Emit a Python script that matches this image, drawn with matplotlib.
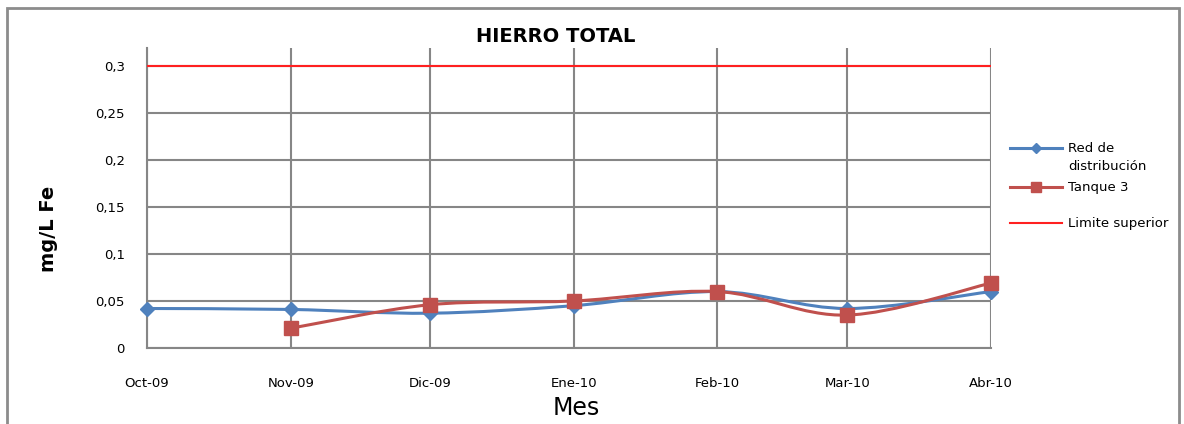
import matplotlib
matplotlib.use("Agg")
import matplotlib.pyplot as plt
import matplotlib.dates as mdates
from matplotlib.path import Path
from matplotlib.patches import PathPatch, Rectangle
from matplotlib.lines import Line2D
import numpy as np

# datos
meses = ["Oct-09", "Nov-09", "Dic-09", "Ene-10", "Feb-10", "Mar-10", "Abr-10"]
fechas = ["2009-10-01", "2009-11-01", "2009-12-01", "2010-01-01",
          "2010-02-01", "2010-03-01", "2010-04-01"]
red_distribucion = [0.042, 0.041, 0.037, 0.045, 0.060, 0.042, 0.060]
tanque3 = [None, 0.021, 0.046, 0.050, 0.060, 0.035, 0.069]
limite = [0.3, 0.3, 0.3, 0.3, 0.3, 0.3, 0.3]
yticks = [0, 0.05, 0.1, 0.15, 0.2, 0.25, 0.3]
ylabels = ["0", "0,05", "0,1", "0,15", "0,2", "0,25", "0,3"]

azul = "#4F81BD"
rojo = "#C0504D"
rojo_lim = "#FF2020"
gris = "#868686"
fs = 9.5

x_all = mdates.datestr2num(fechas)


def curva_suave(xs, ys):
    # bezier tipo excel (catmull-rom) entre los puntos
    p = np.column_stack([xs, ys])
    n = len(p)
    verts = [p[0]]
    codes = [Path.MOVETO]
    for i in range(n - 1):
        p0 = p[i - 1] if i > 0 else p[i]
        p3 = p[i + 2] if i + 2 < n else p[i + 1]
        c1 = p[i] + (p[i + 1] - p0) / 6
        c2 = p[i + 1] - (p3 - p[i]) / 6
        verts += [c1, c2, p[i + 1]]
        codes += [Path.CURVE4] * 3
    return Path(verts, codes)


fig = plt.figure(figsize=(11.84, 4.24), dpi=100)
fig.patches.append(Rectangle((7 / 1184, -0.1), 1172 / 1184, 1.1 - 8 / 424,
                             transform=fig.transFigure, fill=False,
                             edgecolor="#8C8C8C", linewidth=2))
ax = fig.add_axes([147 / 1184, 1 - 348 / 424, 844 / 1184, 300 / 424])

ax.set_xlim(x_all[0], x_all[-1])
ax.set_ylim(0, 0.319)

# serie limite
ax.plot(x_all, limite, color=rojo_lim, linewidth=1.5, zorder=3)

# red de distribucion
ax.add_patch(PathPatch(curva_suave(x_all, red_distribucion), fill=False,
                       edgecolor=azul, linewidth=2.2, zorder=4, clip_on=False))
ax.plot(x_all, red_distribucion, linestyle="none", marker="D", markersize=7,
        color=azul, zorder=5, clip_on=False)

# tanque 3
xt = [x for x, v in zip(x_all, tanque3) if v is not None]
yt = [v for v in tanque3 if v is not None]
ax.add_patch(PathPatch(curva_suave(xt, yt), fill=False,
                       edgecolor=rojo, linewidth=2.2, zorder=4, clip_on=False))
ax.plot(xt, yt, linestyle="none", marker="s", markersize=10,
        color=rojo, zorder=6, clip_on=False)

ax.set_xticks(x_all)
ax.set_xticklabels(meses)
ax.set_yticks(yticks)
ax.set_yticklabels(ylabels)
ax.tick_params(axis="both", length=0, labelsize=fs, colors="black")
ax.tick_params(axis="x", pad=21)
ax.tick_params(axis="y", pad=16)
ax.grid(True, color=gris, linewidth=1.5)
ax.set_axisbelow(True)
for s in ["top", "right"]:
    ax.spines[s].set_visible(False)
for s in ["left", "bottom"]:
    ax.spines[s].set_color(gris)
    ax.spines[s].set_linewidth(1.5)

fig.text(556 / 1184, 1 - 36 / 424, "HIERRO TOTAL", ha="center", va="center",
         fontsize=14, fontweight="bold")
fig.text(48 / 1184, 1 - 229 / 424, "mg/L Fe", ha="center", va="center",
         rotation=90, fontsize=14, fontweight="bold")
fig.text(576 / 1184, 1 - 408 / 424, "Mes", ha="center", va="center",
         fontsize=17)

# leyenda: una entrada por fila como en excel
entradas = [
    (Line2D([], [], color=azul, linewidth=2.2, marker="D", markersize=5), "Red de", 149),
    (Line2D([], [], color=rojo, linewidth=2.2, marker="s", markersize=7), "Tanque 3", 188),
    (Line2D([], [], color=rojo_lim, linewidth=1.5), "Limite superior", 224),
]
for h, lab, yy in entradas:
    fig.legend([h], [lab], loc="center left",
               bbox_to_anchor=(1010 / 1184, 1 - yy / 424),
               frameon=False, fontsize=fs, handlelength=3.94,
               handletextpad=0.45, borderpad=0, borderaxespad=0)
fig.text(1068 / 1184, 1 - 167 / 424, "distribución", ha="left", va="center",
         fontsize=fs)

fig.savefig("out.png", dpi=100)
